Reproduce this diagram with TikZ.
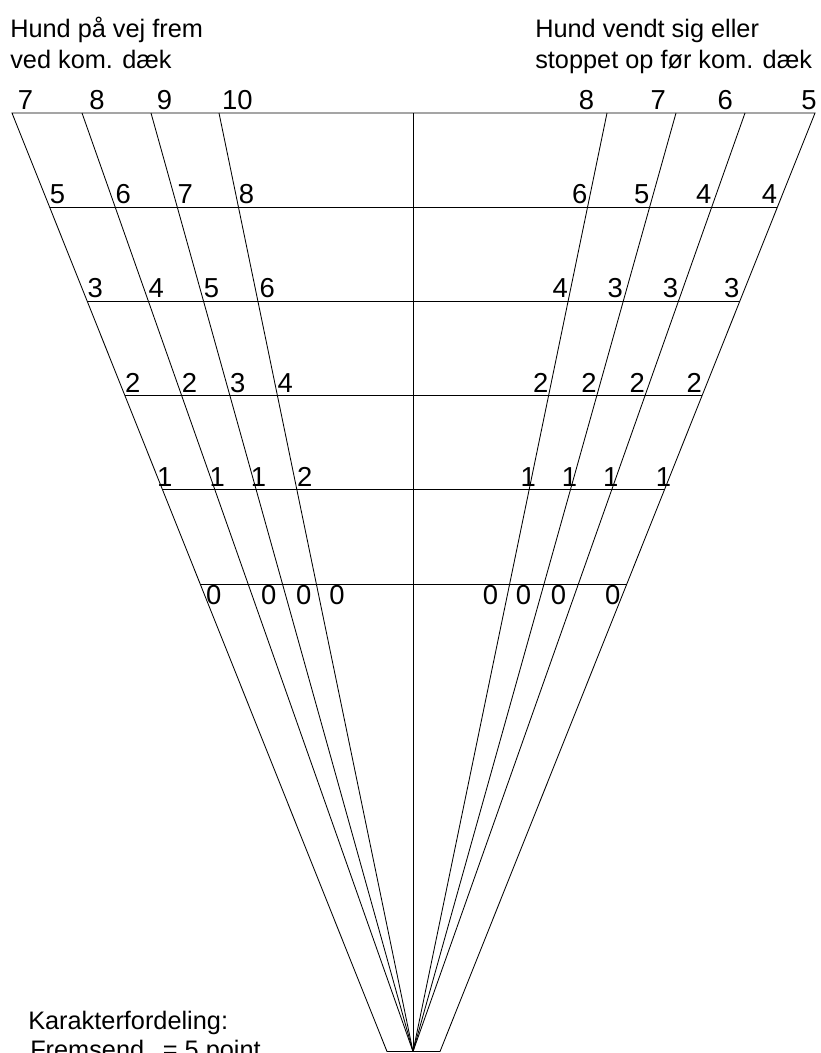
\documentclass[tikz,border=0pt]{standalone}
\usepackage{fontspec}
\setmainfont{Liberation Sans}
\usetikzlibrary{calc}

\tikzset{
  frameline/.style={line width=0.6pt},
  rowline/.style={line width=0.65pt},
  score/.style={font=\fontsize{19.5pt}{22pt}\selectfont, inner sep=0pt},
  caption/.style={font=\fontsize{18pt}{21pt}\selectfont, inner sep=0pt, anchor=base west}
}

\begin{document}
\begin{tikzpicture}[x=0.025cm, y=-0.025cm]
    \useasboundingbox (0,0) rectangle (821,1053);
    \clip (0,0) rectangle (821,1053);

    % headings
    \node[caption] (headL1) at (10,37.5) {Hund på vej frem};
    \node[caption] (headL2) at (10,68) {ved kom. dæk};
    \node[caption] (headR1) at (535,37.5) {Hund vendt sig eller};
    \node[caption] (headR2) at (535,68) {stoppet op før kom. dæk};

    % top points of the fan and its foot
    \coordinate (L0) at (12,113);
    \coordinate (L1) at (82,113);
    \coordinate (L2) at (151,113);
    \coordinate (L3) at (219,113);
    \coordinate (mid) at (413,113);
    \coordinate (R1) at (607,113);
    \coordinate (R2) at (676,113);
    \coordinate (R3) at (745,113);
    \coordinate (R4) at (815,113);
    \coordinate (apex) at (413,1051.5);
    \coordinate (Lb0) at (387,1051.5);
    \coordinate (Rb4) at (440,1051.5);
    \foreach \i in {1,2,3} {
      \coordinate (Lb\i) at (apex);
      \coordinate (Rb\i) at (apex);
    }

    \draw[frameline] (L0) -- (R4) -- (Rb4) -- (Lb0) -- cycle;
    \draw[frameline] (mid) -- (apex);
    \foreach \i in {1,2,3} {
      \draw[frameline] (L\i) -- (apex);
      \draw[frameline] (R\i) -- (apex);
    }

    % score rows
    \foreach \k in {1,...,5} {
      \pgfmathsetmacro\t{0.10037*\k}
      \draw[rowline] ($(L0)!\t!(Lb0)$) -- ($(R4)!\t!(Rb4)$);
    }

    % left scores
    \foreach \k/\vals in {0/{7/4,8/5,9/4,10/2}, 1/{5/0,6/0,7/0,8/0},
                          2/{3/0,4/0,5/0,6/1}, 3/{2/0,2/0,3/0,4/0},
                          4/{1/-4,1/-4,1/-4,2/0}} {
      \pgfmathsetmacro\t{0.10037*\k}
      \foreach \v/\dx [count=\j from 0] in \vals
        \node[score, anchor=base west, xshift=\dx pt, yshift=2.5pt]
          (sL\k\j) at ($(L\j)!\t!(Lb\j)$) {\v};
    }
    \foreach \dx [count=\j from 0] in {4,9,9.5,9}
      \node[score, anchor=north west, xshift=\dx pt, yshift=-1pt]
        (sL5\j) at ($(L\j)!0.50185!(Lb\j)$) {0};

    % right scores
    \foreach \k/\vals in {0/{8/-9,7/-7,6/-8.5,5/1.4}, 1/{6/0,5/0,4/0,4/0},
                          2/{4/0,3/0,3/0,3/0}, 3/{2/0,2/0,2/0,2/0},
                          4/{1/5,1/5,1/5,1/5}} {
      \pgfmathsetmacro\t{0.10037*\k}
      \foreach \v/\dx [count=\j from 1] in \vals
        \node[score, anchor=base east, xshift=\dx pt, yshift=2.5pt]
          (sR\k\j) at ($(R\j)!\t!(Rb\j)$) {\v};
    }
    \foreach \dx [count=\j from 1] in {-8,-9,-8.5,-4.3}
      \node[score, anchor=north east, xshift=\dx pt, yshift=-1pt]
        (sR5\j) at ($(R\j)!0.50185!(Rb\j)$) {0};

    % key
    \node[caption] (keyhead) at (28,1029) {Karakterfordeling:};
    \node[caption] (keyline) at (30,1058) {Fremsend\hspace{13.3pt}= 5 point};
\end{tikzpicture}
\end{document}
